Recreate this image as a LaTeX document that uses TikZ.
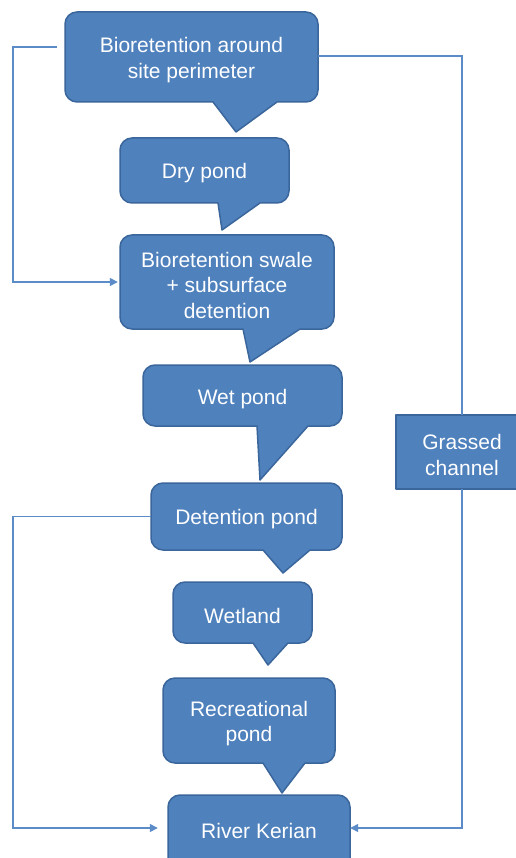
\documentclass[tikz,border=0pt]{standalone}
\usepackage{fontspec}
\setmainfont{Liberation Sans}
\usetikzlibrary{arrows.meta}
\definecolor{boxfill}{HTML}{4F81BD}
\definecolor{boxline}{HTML}{3A669C}
\definecolor{linkc}{HTML}{5B8CC8}
% #1 left, #2 top, #3 right, #4 bottom, #5 tail base left, #6 tail base right, #7 tip x, #8 tip y
\newcommand\callshape[8]{%
  \filldraw[shapebox]
    ({#1+12},#2) -- ({#3-12},#2) .. controls ({#3-5.4},#2) and (#3,{#2+5.4}) .. (#3,{#2+12})
    -- (#3,{#4-12}) .. controls (#3,{#4-5.4}) and ({#3-5.4},#4) .. ({#3-12},#4)
    -- (#6,#4) -- (#7,#8) -- (#5,#4)
    -- ({#1+12},#4) .. controls ({#1+5.4},#4) and (#1,{#4-5.4}) .. (#1,{#4-12})
    -- (#1,{#2+12}) .. controls (#1,{#2+5.4}) and ({#1+5.4},#2) .. ({#1+12},#2) -- cycle;}
\begin{document}
\begin{tikzpicture}[x=1pt,y=-1pt,
  shapebox/.style={fill=boxfill,draw=boxline,line width=1.5pt,line join=round},
  label/.style={text=white,font=\fontsize{21}{25.5}\selectfont,align=center,inner sep=0pt},
  lbl/.style={text=white,font=\fontsize{21}{25.5}\selectfont,align=center,inner sep=0pt,yshift=-3pt},
  link/.style={draw=linkc,line width=1.4pt},
  arr/.style={-{Triangle[length=8pt,width=8pt]}}]
\useasboundingbox (0,0) rectangle (515,858);
\fill[white] (0,0) rectangle (515,858);
% shapes
\callshape{65}{12}{318}{102}{213}{277}{236}{132}
\callshape{120}{138}{289}{203}{218}{260}{222}{230}
\callshape{120}{235}{334}{329}{243}{300}{250}{362}
\callshape{143}{365}{342}{426}{257}{308}{260}{480}
\callshape{151}{483}{342}{550}{263}{310}{283}{573}
\callshape{173}{582}{312}{643}{253}{288}{268}{665}
\callshape{163}{678}{335}{763}{263}{305}{282}{793}
\filldraw[shapebox,rounded corners=12pt] (168,795) rectangle (350,875);
\filldraw[shapebox] (396,415) rectangle (528,489);
% box nodes (anchors) and their texts
\node[inner sep=0pt,minimum width=253pt,minimum height=90pt] (n1) at (191.5,57) {};
\node[inner sep=0pt,minimum width=169pt,minimum height=65pt] (n2) at (204.5,170.5) {};
\node[inner sep=0pt,minimum width=214pt,minimum height=94pt] (n3) at (227,282) {};
\node[inner sep=0pt,minimum width=199pt,minimum height=61pt] (n4) at (242.5,396) {};
\node[inner sep=0pt,minimum width=191pt,minimum height=67pt] (n5) at (246.5,516.5) {};
\node[inner sep=0pt,minimum width=139pt,minimum height=61pt] (n6) at (242.5,612.5) {};
\node[inner sep=0pt,minimum width=172pt,minimum height=85pt] (n7) at (249,720.5) {};
\node[inner sep=0pt,minimum width=182pt,minimum height=66pt] (n8) at (259,828) {};
\node[inner sep=0pt,minimum width=132pt,minimum height=74pt] (gc) at (462,452) {};
\node[lbl] (t1) at (n1) {Bioretention around\\site perimeter};
\node[lbl] (t2) at (n2) {Dry pond};
\node[lbl] (t3) at (n3) {Bioretention swale\\+ subsurface\\detention};
\node[lbl] (t4) at (n4) {Wet pond};
\node[lbl] (t5) at (n5) {Detention pond};
\node[lbl] (t6) at (n6) {Wetland};
\node[lbl] (t7) at (n7) {Recreational\\pond};
\node[lbl] (t8) at (n8) {River Kerian};
\node[lbl] (tg) at (gc) {Grassed\\channel};
% connectors
\draw[link,arr] ([xshift=-8pt,yshift=10pt]n1.west) -- ++(-44,0) |- ([xshift=-2pt]n3.west);
\draw[link] ([yshift=1pt]n1.east) -| (gc.north);
\draw[link,arr] (gc.south) |- (n8.east);
\draw[link,arr] (n5.west) -- ++(-138,0) |- ([xshift=-10pt]n8.west);
\end{tikzpicture}
\end{document}
